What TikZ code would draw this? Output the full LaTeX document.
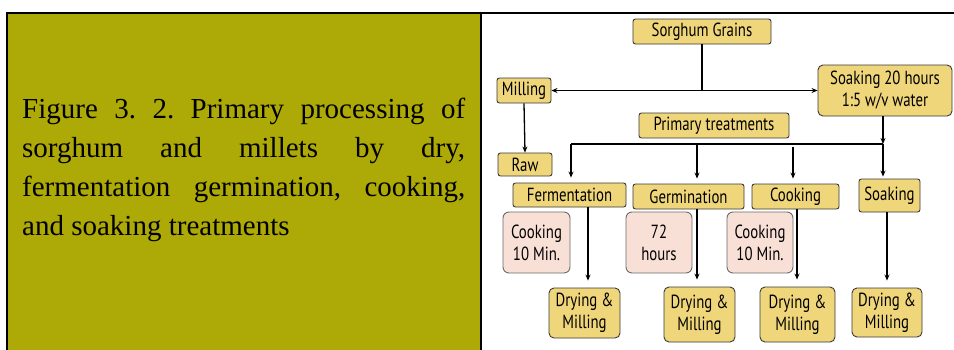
\documentclass[tikz,border=0pt]{standalone}
\usepackage{fontspec}
\setmainfont{Liberation Serif}
\newfontfamily\dfont{PT Sans}[FakeStretch=0.78]
\usetikzlibrary{arrows.meta}
\definecolor{panelolive}{HTML}{ADA906}
\definecolor{goldbox}{HTML}{F0D67B}
\definecolor{pinkbox}{HTML}{F9E0D6}
\definecolor{boxline}{HTML}{3A3A3A}
\tikzset{
  gbox/.style={draw=boxline, fill=goldbox, rounded corners=2.5pt, line width=0.9pt, inner sep=0pt,
    align=center, font=\dfont\fontsize{19}{22}\selectfont},
  pbox/.style={gbox, fill=pinkbox, rounded corners=6pt, draw=boxline!75},
  conn/.style={line width=1.3pt, draw=black},
  arr/.style={conn, -{Stealth[length=6pt,width=5pt]}},
}
\begin{document}
\frenchspacing
\begin{tikzpicture}[x=1pt,y=-1pt]
\useasboundingbox (0,0) rectangle (954,349);
\fill[white] (0,0) rectangle (954,349);
\fill[panelolive] (7,13) rectangle (481,352);
\draw[line width=2.5pt] (7,352) -- (7,13) -- (955,13);
\draw[line width=2.5pt] (481,13) -- (481,352);
\node[anchor=base west, inner sep=0pt] (cap) at (22,118)
  {\parbox[t]{443pt}{\frenchspacing\fontsize{29}{39}\selectfont Figure 3. 2. Primary processing of\linebreak
   sorghum and millets by dry,\linebreak fermentation germination, cooking,\linebreak and soaking treatments}};

\node[gbox, minimum width=138pt, minimum height=25pt] (sg) at (702,31.5) {Sorghum Grains};
\node[gbox, minimum width=54pt, minimum height=25pt] (mill) at (524,90.5) {Milling};
\node[gbox, minimum width=134pt, minimum height=51pt, rounded corners=5pt] (soak20) at (885,90.5) {Soaking 20 hours\\1:5 w/v water};
\node[gbox, minimum width=150pt, minimum height=25pt] (pt) at (714,125.5) {Primary treatments};
\node[gbox, minimum width=54pt, minimum height=23pt] (raw) at (525,164.5) {Raw};
\node[gbox, minimum width=113pt, minimum height=24pt] (ferm) at (569.5,195) {Fermentation};
\node[gbox, minimum width=111pt, minimum height=25pt] (germ) at (688.5,196.5) {Germination};
\node[gbox, minimum width=87pt, minimum height=25pt] (cook) at (795.5,196.5) {Cooking};
\node[gbox, minimum width=61pt, minimum height=33pt] (soak) at (889.5,195.5) {Soaking};
\node[pbox, minimum width=67pt, minimum height=61pt] (pk1) at (536.5,242.5) {Cooking\\10 Min.};
\node[pbox, minimum width=66pt, minimum height=61pt] (pk2) at (659,242.5) {72\\hours};
\node[pbox, minimum width=66pt, minimum height=61pt] (pk3) at (760,242.5) {Cooking\\10 Min.};
\node[gbox, minimum width=71pt, minimum height=50pt, rounded corners=5pt] (dm1) at (584.5,313) {Drying \&\\Milling};
\node[gbox, minimum width=71pt, minimum height=55pt, rounded corners=5pt] (dm2) at (699.5,314.5) {Drying \&\\Milling};
\node[gbox, minimum width=75pt, minimum height=55pt, rounded corners=5pt] (dm3) at (797.5,314.5) {Drying \&\\Milling};
\node[gbox, minimum width=70pt, minimum height=49pt, rounded corners=5pt] (dm4) at (887,312.5) {Drying \&\\Milling};

\coordinate (jl) at (571,144);
\coordinate (jr) at (883,144);
\coordinate (jg) at (697,144);
\coordinate (jc) at (793,147);
\coordinate (xf) at (588,0);
\coordinate (xc) at (797,0);
\coordinate (xs) at (887,0);

\draw[conn] (sg.south) -- (sg.south |- mill.east);
\draw[conn, {Stealth[length=6pt,width=5pt]}-{Stealth[length=6pt,width=5pt]}] (mill.east) -- (soak20.west);
\draw[arr] (mill.south) -- (raw.north);
\draw[arr] (soak20.south -| jr) -- (jr);
\draw[conn] (jl) -- (jr);
\draw[arr, shorten >=5pt] (jl) -- (ferm.north -| jl);
\draw[arr, shorten >=5pt] (jg) -- (germ.north -| jg);
\draw[arr, shorten >=5pt] (jc) -- (cook.north -| jc);
\draw[arr, shorten >=2pt] (jr) -- (soak.north -| jr);
\draw[arr, shorten >=7pt] (ferm.south -| xf) -- (dm1.north -| xf);
\draw[arr, shorten >=7pt] (germ.south -| jg) -- (dm2.north -| jg);
\draw[arr, shorten >=7pt] (cook.south -| xc) -- (dm3.north -| xc);
\draw[arr, shorten >=7pt] (soak.south -| xs) -- (dm4.north -| xs);
\end{tikzpicture}
\end{document}
